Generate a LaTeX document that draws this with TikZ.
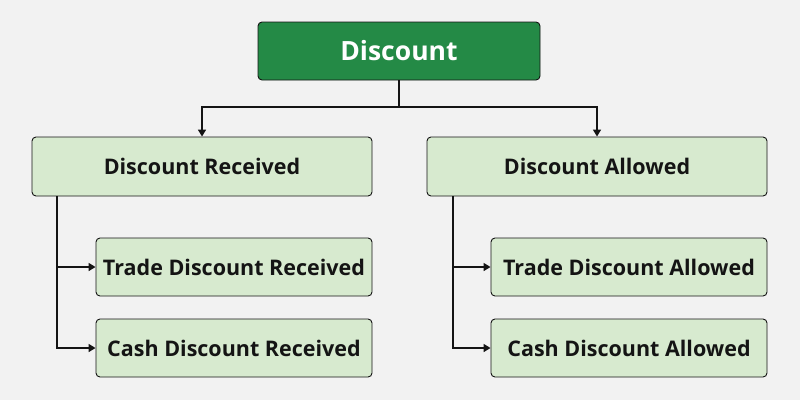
\documentclass[tikz,border=0pt]{standalone}
\usepackage{fontspec}
\setmainfont{Open Sans}
\usetikzlibrary{arrows.meta}
\definecolor{bg}{RGB}{242,242,242}
\definecolor{topgreen}{RGB}{36,138,70}
\definecolor{lightgreen}{RGB}{215,234,207}
\definecolor{ink}{RGB}{20,20,20}
\begin{document}
\begin{tikzpicture}[x=1pt,y=-1pt,
  box/.style={draw=ink,line width=0.9pt,rounded corners=4pt,fill=lightgreen,text=ink,font=\bfseries\fontsize{21.5}{24}\selectfont,inner sep=0pt},
  topbox/.style={draw=ink,line width=0.9pt,rounded corners=4pt,fill=topgreen,text=white,font=\bfseries\fontsize{26.5}{30}\selectfont,inner sep=0pt},
  conn/.style={draw=ink,line width=1.6pt},
  arr/.style={conn,-{Triangle[length=7pt,width=8pt]}}]
\fill[bg] (0,0) rectangle (800,400);
\useasboundingbox (0,0) rectangle (800,400);
\node[topbox,minimum width=282pt,minimum height=58pt] (top) at (399,51) {Discount};
\node[box,minimum width=340pt,minimum height=59pt] (recv) at (202,166.5) {Discount Received};
\node[box,minimum width=340pt,minimum height=59pt] (allw) at (597,166.5) {Discount Allowed};
\node[box,minimum width=276pt,minimum height=58pt] (tdr) at (234,267) {Trade Discount Received};
\node[box,minimum width=276pt,minimum height=58pt] (cdr) at (234,348) {Cash Discount Received};
\node[box,minimum width=276pt,minimum height=58pt] (tda) at (629,267) {Trade Discount Allowed};
\node[box,minimum width=276pt,minimum height=58pt] (cda) at (629,348) {Cash Discount Allowed};
\coordinate (j) at (399,107);
\draw[conn] (top.south) -- (j);
\draw[arr] (j) -| (recv.north);
\draw[arr] (j) -| (allw.north);
\coordinate (lr) at (57,196);
\coordinate (la) at (453,196);
\draw[arr] (lr) |- (tdr.west);
\draw[arr] (lr) |- (cdr.west);
\draw[arr] (la) |- (tda.west);
\draw[arr] (la) |- (cda.west);
\end{tikzpicture}
\end{document}
